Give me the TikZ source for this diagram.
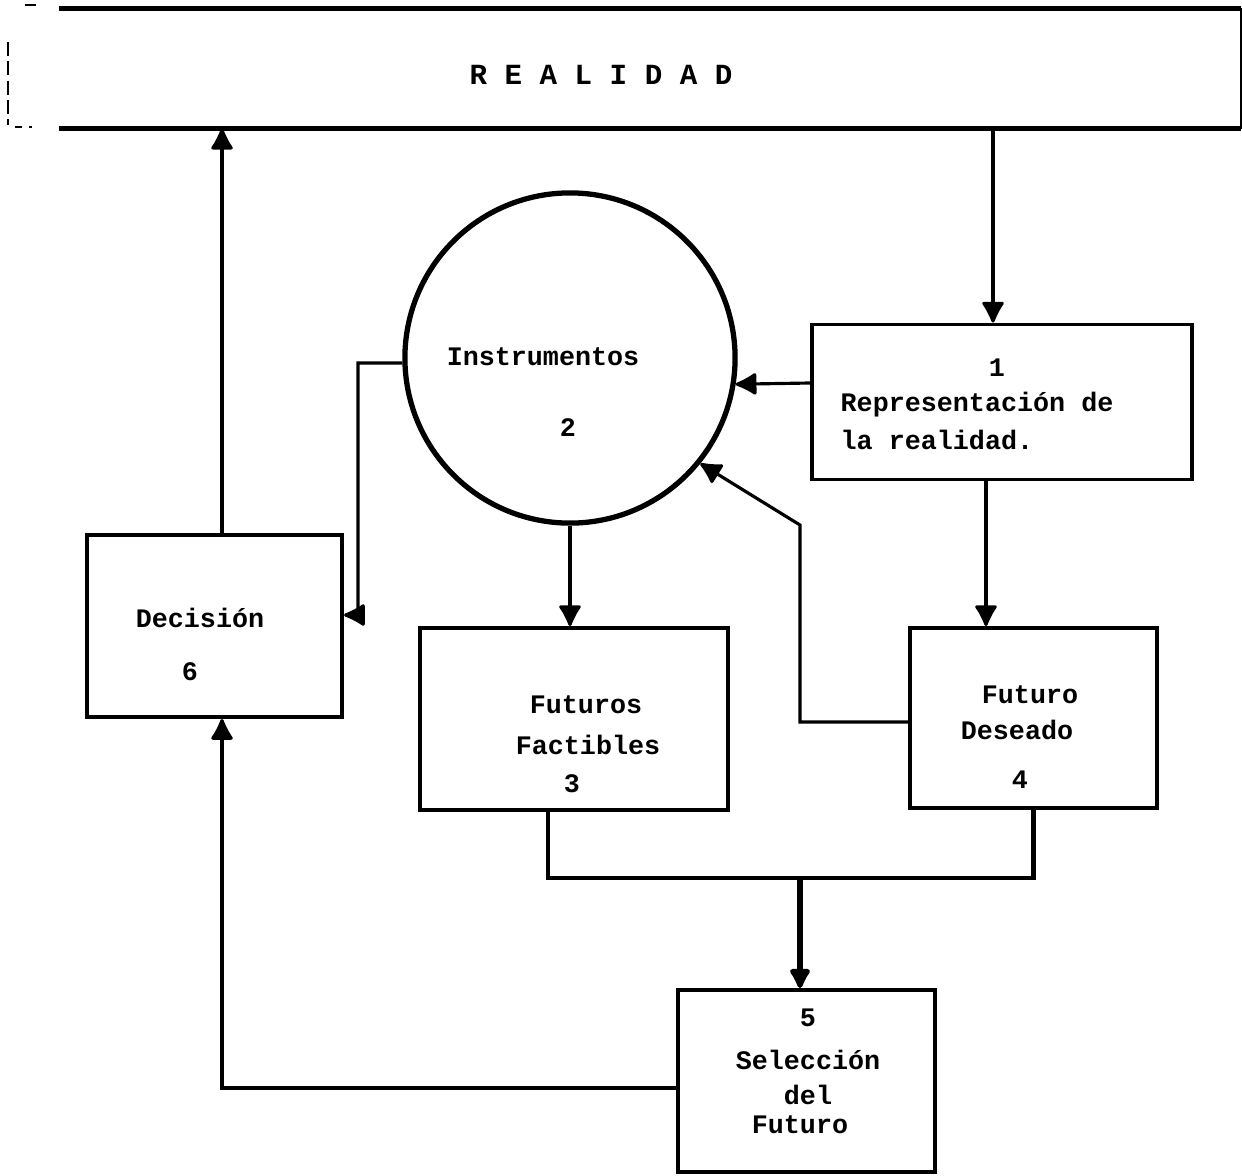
\documentclass[tikz,border=0pt]{standalone}
\usepackage{fontspec}
\setmainfont{Liberation Mono}
\usetikzlibrary{arrows.meta}
\begin{document}
\begin{tikzpicture}[x=0.01cm,y=-0.01cm,
  box/.style={draw, line width=1.1pt, inner sep=0pt},
  conn/.style={line width=0.9pt},
  arr/.style={conn, -{Latex[round,length=2.4mm,width=2.5mm]}},
  lbl/.style={font=\bfseries\fontsize{7.6}{9}\selectfont, inner sep=0pt}]
\useasboundingbox (0,0) rectangle (1242,1175);
% REALIDAD band
\node[inner sep=0pt, minimum width=11.8cm, minimum height=1.19cm] (real) at (650,68.5) {};
\draw[line width=1.3pt] (real.north west) -- (real.north east);
\draw[line width=1.3pt] (real.south west) -- (real.south east);
\draw[line width=0.7pt] (real.north east) -- (real.south east);
\draw[line width=0.8pt, dash pattern=on 4pt off 1.5pt] (8,42) -- (8,125);
\draw[line width=0.8pt] (25,5) -- (36,5);
\draw[line width=0.8pt, dash pattern=on 2pt off 2pt] (15,127) -- (32,127);
\node[font=\bfseries\fontsize{8.3}{10}\selectfont, inner sep=0pt] (treal) at (601,75) {R E A L I D A D};
% shapes
\node[draw, circle, line width=1.5pt, minimum size=3.3cm, inner sep=0pt] (circ) at (570,358) {};
\node[box, minimum width=3.80cm, minimum height=1.55cm] (b1) at (1002,402) {};
\node[box, minimum width=2.55cm, minimum height=1.82cm] (b6) at (214.5,626) {};
\node[box, minimum width=3.08cm, minimum height=1.82cm] (b3) at (574,719) {};
\node[box, minimum width=2.47cm, minimum height=1.80cm] (b4) at (1033.5,718) {};
\node[box, minimum width=2.57cm, minimum height=1.82cm] (b5) at (806.5,1081) {};
% texts
\node[lbl] (t2a) at (543,357) {Instrumentos};
\node[lbl] (t2b) at (568,428) {2};
\node[lbl] (t1a) at (997,368) {1};
\node[lbl, anchor=west] (t1b) at (840,405) {Representación de};
\node[lbl, anchor=west] (t1c) at (840,440) {la realidad.};
\node[lbl] (t6a) at (200,618) {Decisión};
\node[lbl] (t6b) at (190,672) {6};
\node[lbl] (t3a) at (586,705) {Futuros};
\node[lbl] (t3b) at (588,745) {Factibles};
\node[lbl] (t3c) at (572,784) {3};
\node[lbl] (t4a) at (1030,695) {Futuro};
\node[lbl] (t4b) at (1017,730) {Deseado};
\node[lbl] (t4c) at (1020,780) {4};
\node[lbl] (t5a) at (808,1018) {5};
\node[lbl] (t5b) at (808,1060) {Selección};
\node[lbl] (t5c) at (808,1095) {del};
\node[lbl] (t5d) at (800,1125) {Futuro};
% connectors
\draw[arr] ([xshift=-0.9mm]b1.north |- real.south) -- ([xshift=-0.9mm]b1.north);
\draw[arr] ([yshift=1.9mm]b1.west) -- (circ.-9);
\draw[arr] (circ.south) -- (circ.south |- b3.north);
\draw[arr] ([xshift=-1.6mm]b1.south) -- ([xshift=-1.6mm]b1.south |- b4.north);
\coordinate (k) at (800,525);
\draw[arr] ([yshift=-0.4mm]b4.west) -| (k) -- (circ.-39);
\coordinate (j) at (800,878);
\draw[line width=1.2pt] ([xshift=-2.6mm]b3.south) |- (j) -| (b4.south);
\draw[arr, line width=1.6pt] (j) -- (j |- b5.north);
\draw[arr] ([yshift=-0.7mm]b5.west) -| ([xshift=0.75mm]b6.south);
\draw[arr] ([xshift=0.75mm]b6.north) -- ([xshift=0.75mm]b6.north |- real.south);
\coordinate (m) at (358,363);
\draw[arr] ([yshift=-0.5mm]circ.west) -- (m) |- ([yshift=1.1mm]b6.east);
\end{tikzpicture}
\end{document}
